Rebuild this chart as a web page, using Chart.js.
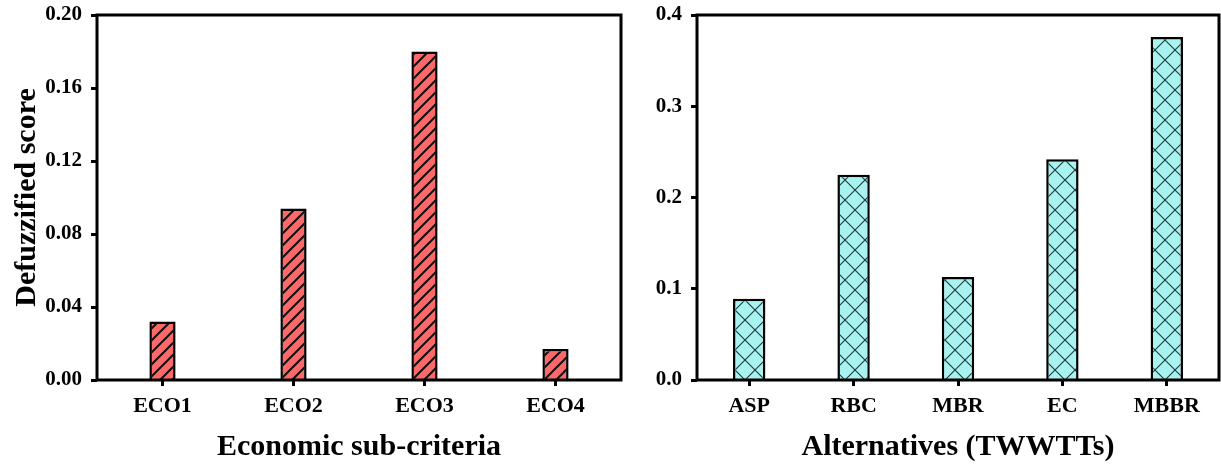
<!DOCTYPE html>
<html>
<head>
<meta charset="utf-8">
<script src="https://cdn.jsdelivr.net/npm/chart.js@4.4.0/dist/chart.umd.min.js"></script>
<style>
  html, body { margin: 0; padding: 0; background: #fff; }
  #wrap { position: relative; width: 1221px; height: 465px; }
  #ecoChart { position: absolute; left: 0; top: 0; }
  #altChart { position: absolute; left: 645px; top: 0; }
</style>
</head>
<body>
<div id="wrap">
  <canvas id="ecoChart" width="645" height="465"></canvas>
  <canvas id="altChart" width="576" height="465"></canvas>
</div>
<script>
// economic sub-criteria
const ecoLabels = ['ECO1', 'ECO2', 'ECO3', 'ECO4'];
const ecoScores = [0.032, 0.094, 0.180, 0.017];

// treatment alternatives
const altLabels = ['ASP', 'RBC', 'MBR', 'EC', 'MBBR'];
const altScores = [0.089, 0.225, 0.113, 0.242, 0.376];

const FONT = '"Times New Roman", "Liberation Serif", serif';

// hatch tiles for the bar fills
function stripePattern(bg) {
    const s = 12;
    const c = document.createElement('canvas');
    c.width = s; c.height = s;
    const g = c.getContext('2d');
    g.fillStyle = bg;
    g.fillRect(0, 0, s, s);
    g.strokeStyle = '#111';
    g.lineWidth = 2;
    g.beginPath();
    g.moveTo(0, s); g.lineTo(s, 0);
    g.moveTo(-2, 2); g.lineTo(2, -2);
    g.moveTo(s - 2, s + 2); g.lineTo(s + 2, s - 2);
    g.stroke();
    return g.createPattern(c, 'repeat');
}

function crossPattern(bg) {
    const s = 20;
    const c = document.createElement('canvas');
    c.width = s; c.height = s;
    const g = c.getContext('2d');
    g.fillStyle = bg;
    g.fillRect(0, 0, s, s);
    g.strokeStyle = '#1d3b3b';
    g.lineWidth = 1.1;
    g.beginPath();
    g.moveTo(0, s); g.lineTo(s, 0);
    g.moveTo(0, 0); g.lineTo(s, s);
    g.stroke();
    return g.createPattern(c, 'repeat');
}

// closed box around the plot area
const frame = {
    id: 'frame',
    afterDraw(chart) {
        const a = chart.chartArea;
        const ctx = chart.ctx;
        ctx.save();
        ctx.strokeStyle = '#000';
        ctx.lineWidth = 3;
        ctx.strokeRect(a.left, a.top, a.right - a.left, a.bottom - a.top);
        ctx.restore();
    }
};

function makeChart(id, labels, values, fill, barPct, yMax, yStep, digits, yTitle, xTitle, yWidth, padRight) {
    return new Chart(document.getElementById(id), {
        type: 'bar',
        data: {
            labels: labels,
            datasets: [{
                data: values,
                backgroundColor: fill,
                borderColor: '#000',
                borderWidth: 2.5,
                barPercentage: barPct,
                categoryPercentage: 1
            }]
        },
        options: {
            responsive: false,
            animation: false,
            devicePixelRatio: 1,
            layout: { padding: { top: 15, right: padRight, bottom: 0, left: 0 } },
            plugins: { legend: { display: false }, tooltip: { enabled: false } },
            scales: {
                x: {
                    offset: true,
                    grid: { display: true, drawOnChartArea: false, drawTicks: true, tickLength: 6, tickWidth: 3, tickColor: '#000', offset: false },
                    border: { display: false },
                    ticks: { color: '#000', padding: 7, font: { family: FONT, size: 22, weight: 'bold' } },
                    title: { display: true, text: xTitle, color: '#000', padding: { top: 0, bottom: 0 }, font: { family: FONT, size: 30, weight: 'bold' } },
                    afterFit: s => { s.height = 85; }
                },
                y: {
                    min: 0,
                    max: yMax,
                    grid: { display: true, drawOnChartArea: false, drawTicks: true, tickLength: 6, tickWidth: 3, tickColor: '#000' },
                    border: { display: false },
                    ticks: {
                        stepSize: yStep,
                        color: '#000',
                        padding: 9,
                        font: { family: FONT, size: 21, weight: 'bold' },
                        callback: v => Number(v).toFixed(digits)
                    },
                    title: { display: !!yTitle, text: yTitle, color: '#000', padding: { top: 9, bottom: 0 }, font: { family: FONT, size: 30, weight: 'bold' } },
                    afterFit: s => {
                        s.width = yWidth;
                        s.paddingTop = 0;
                        s.paddingBottom = 0;
                    }
                }
            }
        },
        plugins: [frame]
    });
}

makeChart('ecoChart', ecoLabels, ecoScores, stripePattern('#ff6868'), 0.2,
    0.2, 0.04, 2, 'Defuzzified score', 'Economic sub-criteria', 97, 24);

makeChart('altChart', altLabels, altScores, crossPattern('#a8f2f0'), 0.31,
    0.4, 0.1, 1, '', 'Alternatives (TWWTTs)', 52, 2);
</script>
</body>
</html>
